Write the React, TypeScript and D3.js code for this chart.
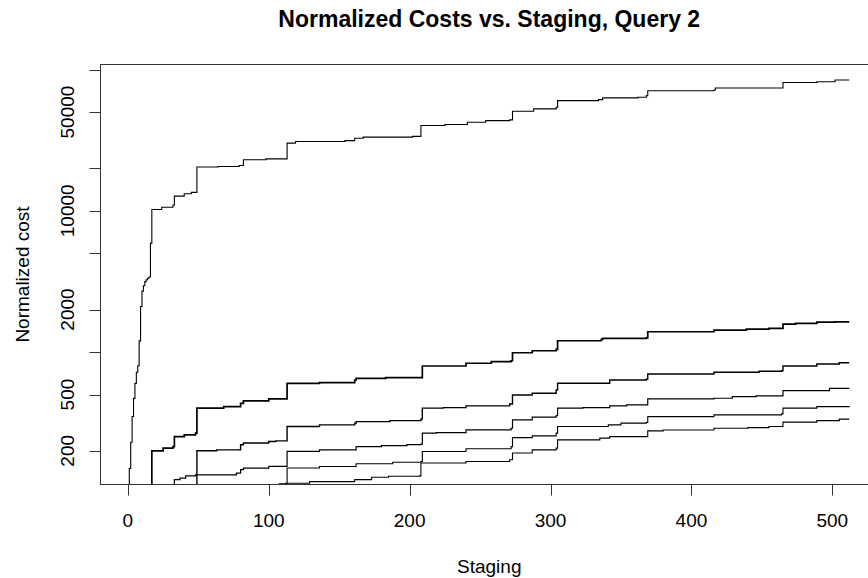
import { useRef, useEffect } from 'react';
import * as d3 from 'd3';

type Pt = [number, number];

// step points: [staging, normalized cost]
const seriesA: Pt[] = [
  [0, 60], [1, 150], [2, 230], [3, 350], [4, 470], [5, 600], [6, 720], [7, 800], [8, 1200], [9, 2100],
  [10, 2700], [11, 2950], [12, 3150], [13, 3250], [14, 3330], [15, 3400], [16, 5900], [17, 10200],
  [24, 10600], [32, 11000], [33, 12700], [40, 13200], [45, 13500], [49, 20400], [64, 20600], [79, 20900],
  [82, 23000], [98, 23300], [113, 30100], [119, 30900], [154, 31400], [161, 32600], [167, 33200],
  [202, 33600], [208, 40100], [225, 40800], [241, 42300], [254, 43500], [271, 44000], [273, 50600],
  [288, 52600], [304, 54000], [305, 60200], [334, 61200], [337, 63000], [362, 63600], [368, 65300],
  [369, 70800], [416, 71600], [417, 74000], [465, 81000], [489, 82000], [502, 84300], [512, 84300],
];
const seriesB: Pt[] = [
  [16, 90], [17, 200], [25, 209], [32, 214], [33, 252], [40, 259], [48, 267], [49, 401], [68, 411],
  [80, 434], [82, 451], [100, 466], [113, 601], [136, 607], [161, 634], [162, 652], [183, 659],
  [209, 797], [240, 833], [258, 855], [272, 868], [273, 989], [287, 1022], [304, 1045], [305, 1202],
  [336, 1230], [337, 1250], [368, 1262], [369, 1392], [416, 1430], [439, 1454], [455, 1471],
  [465, 1577], [474, 1595], [489, 1630], [502, 1638], [512, 1638],
];
const seriesC: Pt[] = [
  [48, 90], [49, 200], [63, 203], [80, 221], [82, 227], [100, 233], [105, 235], [113, 297], [136, 305],
  [161, 314], [162, 322], [186, 327], [208, 335], [209, 401], [224, 404], [240, 416], [271, 429],
  [273, 497], [287, 511], [304, 539], [305, 601], [316, 601], [342, 634], [368, 642], [369, 700],
  [393, 700], [416, 719], [448, 731], [464, 738], [465, 797], [489, 823], [505, 841], [512, 841],
];
const seriesD: Pt[] = [
  [32, 90], [33, 125], [37, 128], [41, 133], [48, 135], [77, 139], [80, 147], [82, 151], [100, 155],
  [113, 198], [136, 203], [162, 214], [180, 218], [198, 221], [208, 223], [209, 267], [219, 269],
  [240, 281], [272, 289], [273, 331], [287, 346], [304, 355], [305, 401], [323, 404], [342, 416],
  [354, 423], [369, 466], [416, 471], [429, 484], [446, 489], [465, 533], [498, 554], [512, 554],
];
const seriesE: Pt[] = [
  [112, 100], [113, 151], [136, 155], [162, 162], [188, 166], [208, 168], [209, 198], [240, 207],
  [272, 214], [273, 248], [287, 255], [304, 267], [305, 297], [341, 305], [350, 314], [368, 317],
  [369, 349], [416, 359], [464, 365], [465, 401], [489, 411], [512, 416],
];
const seriesF: Pt[] = [
  [107, 117], [112, 118], [129, 121], [161, 125], [173, 130], [185, 132], [207, 133], [208, 164],
  [226, 164], [240, 168], [271, 173], [273, 193], [287, 203], [304, 209], [305, 239], [335, 246],
  [342, 252], [369, 277], [380, 281], [416, 289], [440, 292], [455, 297], [465, 319], [489, 327],
  [505, 335], [512, 335],
];

const allSeries = [seriesA, seriesB, seriesC, seriesD, seriesE, seriesF];
const seriesWidths = [1.1, 1.7, 1.4, 1.2, 1.1, 1.1];

const xTicks = [0, 100, 200, 300, 400, 500];
const yTicks = [200, 500, 1000, 2000, 5000, 10000, 20000, 50000, 100000];
const yLabeled = [200, 500, 2000, 10000, 50000];

const W = 868;
const H = 578;
const PLOT = { left: 100.5, right: 878, top: 64.5, bottom: 484.5 };
const FONT = 'Arial, "Liberation Sans", sans-serif';

export default function App() {
  const svgRef = useRef<SVGSVGElement>(null);

  useEffect(() => {
    const svg = svgRef.current;
    if (!svg) return;
    const root = d3.select(svg);
    root.selectAll('*').remove();

    const xScale = d3.scaleLinear().domain([-19.44, 532.44]).range([PLOT.left, PLOT.right]);
    const yScale = d3.scaleLog().domain([115.5, 108500]).range([PLOT.bottom, PLOT.top]);

    root.append('rect').attr('width', W).attr('height', H).attr('fill', '#fff');

    root.append('defs').append('clipPath').attr('id', 'plot-clip')
      .append('rect').attr('x', PLOT.left).attr('y', PLOT.top)
      .attr('width', PLOT.right - PLOT.left).attr('height', PLOT.bottom - PLOT.top);

    // Step lines
    const line = d3.line<Pt>().x(d => xScale(d[0])).y(d => yScale(d[1])).curve(d3.curveStepAfter);
    const lines = root.append('g').attr('clip-path', 'url(#plot-clip)');
    allSeries.forEach((s, i) => {
      lines.append('path').datum(s).attr('d', line).attr('fill', 'none')
        .attr('stroke', '#000').attr('stroke-width', seriesWidths[i]).attr('stroke-linejoin', 'miter');
    });

    // Box
    root.append('rect').attr('x', PLOT.left).attr('y', PLOT.top)
      .attr('width', PLOT.right - PLOT.left).attr('height', PLOT.bottom - PLOT.top)
      .attr('fill', 'none').attr('stroke', '#333').attr('stroke-width', 1);

    // X axis
    const xG = root.append('g');
    xTicks.forEach(t => {
      const x = Math.round(xScale(t)) + 0.5;
      xG.append('line').attr('x1', x).attr('x2', x).attr('y1', PLOT.bottom).attr('y2', PLOT.bottom + 11)
        .attr('stroke', '#333');
      xG.append('text').attr('x', xScale(t)).attr('y', 527).attr('text-anchor', 'middle')
        .attr('font-family', FONT).attr('font-size', '19px').attr('fill', '#000').text(String(t));
    });

    // Y axis
    const yG = root.append('g');
    yTicks.forEach(t => {
      const y = Math.round(yScale(t)) + 0.5;
      yG.append('line').attr('x1', PLOT.left - 11).attr('x2', PLOT.left).attr('y1', y).attr('y2', y)
        .attr('stroke', '#333');
      if (yLabeled.includes(t)) {
        yG.append('text').attr('transform', `translate(74,${yScale(t)}) rotate(-90)`).attr('text-anchor', 'middle')
          .attr('font-family', FONT).attr('font-size', '19px').attr('fill', '#000').text(String(t));
      }
    });

    // Titles
    const cx = (PLOT.left + PLOT.right) / 2;
    root.append('text').attr('x', cx).attr('y', 26.5).attr('text-anchor', 'middle')
      .attr('font-family', FONT).attr('font-size', '23px').attr('font-weight', 'bold').attr('fill', '#000')
      .text('Normalized Costs vs. Staging, Query 2');
    root.append('text').attr('x', cx).attr('y', 573).attr('text-anchor', 'middle')
      .attr('font-family', FONT).attr('font-size', '19px').attr('fill', '#000').text('Staging');
    root.append('text').attr('transform', `translate(28.5,${(PLOT.top + PLOT.bottom) / 2}) rotate(-90)`)
      .attr('text-anchor', 'middle').attr('font-family', FONT).attr('font-size', '19px').attr('fill', '#000')
      .text('Normalized cost');
  }, []);

  return (
    <div style={{ position: 'absolute', left: 0, top: 0, width: W, height: H, overflow: 'hidden' }}>
      <svg ref={svgRef} width={W} height={H} style={{ display: 'block' }} />
    </div>
  );
}
